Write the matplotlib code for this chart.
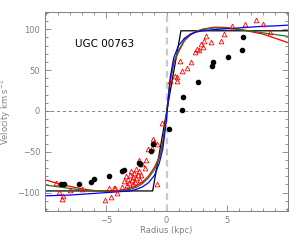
import matplotlib
matplotlib.use("Agg")
import matplotlib.pyplot as plt
from matplotlib.ticker import MultipleLocator, FixedLocator

# observed points (black dots)
dot_r = [6.4, 6.3, 5.1, 3.9, 3.8, 2.6, 1.36, 1.3, 0.2, -1.1, -1.25, -2.2, -2.3,
         -3.55, -3.7, -4.8, -6.05, -6.3, -7.3, -8.5, -8.75]
dot_v = [90.7, 74, 66.5, 60, 55.5, 35.5, 16.8, 1.2, -22.5, -40.4, -48.6, -65, -64,
         -72, -73.5, -80, -83.7, -86.6, -89, -90, -89.5]

# second data set (red open triangles)
tri_r = [7.45, 6.5, 8.0, 5.45, 8.6, 4.8, 3.3, 4.5, 3.7, 3.1, 2.9, 3.0, 2.5, 2.7,
         2.36, 2.05, 1.1, 1.7, 1.3, 0.9, 0.7, 0.9, 0.3,
         -0.35, -1.1, -1.0, -1.2, -1.5, -1.7, -2.0, -1.8, -2.5, -2.3, -2.3, -0.8, -0.8,
         -3.4, -3.2, -3.0, -2.9, -2.8, -2.7, -2.6, -2.5, -2.4, -3.1, -2.2, -3.5,
         -2.75, -3.3, -2.1, -2.95,
         -4.4, -3.7, -4.1, -4.3, -4.65, -5.1, -7.0, -8.0, -8.7, -8.6, -8.9, -9.2, -4.8]
tri_v = [110.6, 105.8, 105.8, 103.3, 96.8, 94.4, 91.5, 85.4, 84.6, 85.4, 82, 78.4, 76, 74,
         72.3, 60, 61, 52.7, 48.2, 42, 43, 36, 36,
         -15, -35, -38, -45.7, -46.5, -60.4, -64.5, -69.5, -71.5, -74, -59.6, -89.5, -40,
         -80, -83, -78, -85, -81, -76, -87, -82, -79, -88, -84, -86,
         -90, -91, -78, -74,
         -94, -92.7, -101, -94.4, -105.8, -109.5, -95.6, -96.5, -107.5, -104, -99, -88, -94.7]

# model curves
mod_r = [-10.2, -9, -8, -7, -6, -5, -4, -3, -2.5, -2, -1.5, -1, -0.6, -0.3, 0,
         0.3, 0.6, 1, 1.5, 2, 2.5, 3, 4, 5, 6, 7, 8, 9, 10.2]
red_v = [-84, -89, -92.5, -95.5, -97.5, -98, -97.5, -94.5, -91.5, -87, -80, -69, -56, -38, -5,
         35, 58, 72, 86, 93, 97.5, 100, 102.5, 102, 100, 97, 94, 89, 83]
green_v = [-90.5, -93, -95, -97, -98, -98.5, -98, -96, -93.5, -89, -82, -72, -58, -40, -5,
           36, 60, 74, 87, 94, 97.5, 99.5, 101.5, 101, 99.5, 98, 95.5, 93.5, 91]
blue_v = [-104, -103.5, -103, -102, -101, -100, -99, -98, -96, -93, -88, -79, -64, -46, -10,
          40, 65, 80, 89, 94, 96.5, 98, 99.5, 100.5, 101.5, 102.5, 103.5, 104, 105]
step_r = [-10.2, -1.15, 1.2, 10.2]
step_v = [-98, -98, 98, 98]

x_ticks = [-5, 0, 5]
y_ticks = [-100, -50, 0, 50, 100]

grey = '#808080'

fig = plt.figure(figsize=(3.0, 2.4), dpi=100)
ax = fig.add_axes([0.15, 0.121, 0.81, 0.829])

ax.axhline(0, color=grey, linestyle='--', linewidth=0.7, dashes=(3, 3))
ax.axvline(0, color='#c8c8c8', linestyle='--', linewidth=1.6, dashes=(3, 2))

ax.plot(step_r, step_v, color='black', linewidth=0.9)
ax.plot(mod_r, red_v, color='red', linewidth=0.9)
ax.plot(mod_r, green_v, color='#1f7a1f', linewidth=0.9)
ax.plot(mod_r, blue_v, color='blue', linewidth=0.9)

ax.plot(tri_r, tri_v, linestyle='none', marker='^', markersize=3.4,
        markerfacecolor='none', markeredgecolor='red', markeredgewidth=0.6)
ax.plot(dot_r, dot_v, linestyle='none', marker='o', markersize=3.0, color='black')

ax.text(-7.6, 82, 'UGC 00763', fontsize=7.5, color='black', va='center')

ax.set_xlim(-10.1, 10.1)
ax.set_ylim(-122.5, 121)
ax.xaxis.set_major_locator(FixedLocator(x_ticks))
ax.xaxis.set_minor_locator(MultipleLocator(1))
ax.yaxis.set_major_locator(FixedLocator(y_ticks))
ax.yaxis.set_minor_locator(MultipleLocator(10))
ax.tick_params(which='both', direction='in', top=True, right=True, color=grey,
               labelsize=6, labelcolor=grey, width=0.6)
ax.tick_params(which='major', length=4)
ax.tick_params(which='minor', length=2)
for s in ax.spines.values():
    s.set_color(grey)
    s.set_linewidth(0.7)

ax.set_xlabel('Radius (kpc)', fontsize=6, color=grey, labelpad=1)
ax.set_ylabel('Velocity km s$^{-1}$', fontsize=6, color=grey, labelpad=3)

fig.savefig('out.png', dpi=100)
